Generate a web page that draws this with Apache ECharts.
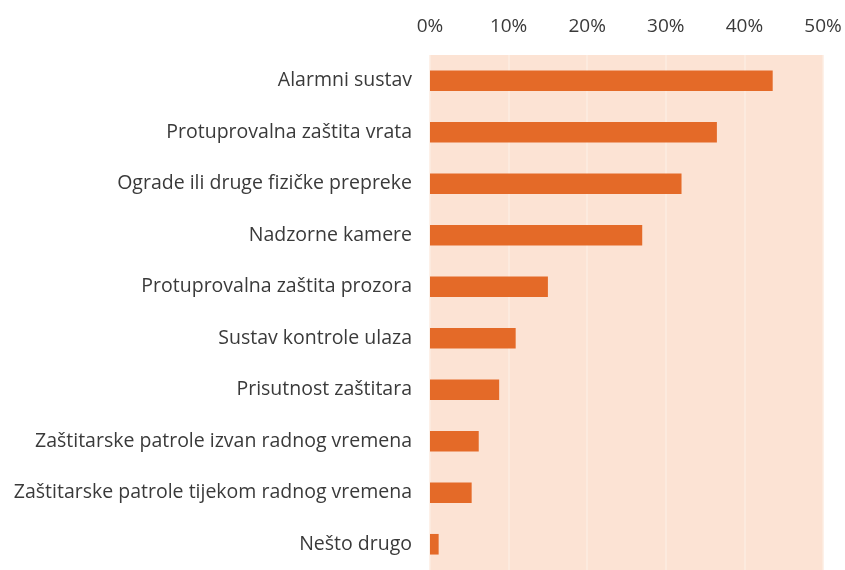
<!DOCTYPE html>
<html>
<head>
<meta charset="utf-8">
<script src="https://cdn.jsdelivr.net/npm/echarts@6/dist/echarts.min.js"></script>
<style>
  html, body { margin: 0; padding: 0; background: #ffffff; }
  #chart { width: 845px; height: 570px; }
</style>
</head>
<body>
<div id="chart"></div>
<script>
// Mjere zaštite (udio, %)
const categories = [
  'Alarmni sustav',
  'Protuprovalna zaštita vrata',
  'Ograde ili druge fizičke prepreke',
  'Nadzorne kamere',
  'Protuprovalna zaštita prozora',
  'Sustav kontrole ulaza',
  'Prisutnost zaštitara',
  'Zaštitarske patrole izvan radnog vremena',
  'Zaštitarske patrole tijekom radnog vremena',
  'Nešto drugo'
];
const values = [43.6, 36.5, 32.0, 27.0, 15.0, 10.9, 8.8, 6.2, 5.3, 1.1];

const chart = echarts.init(document.getElementById('chart'), null, { renderer: 'canvas' });

const textColor = '#3a3a3a';
const fontFamily = '"Open Sans", sans-serif';

chart.setOption({
  animation: false,
  grid: {
    left: 430,
    right: 22,
    top: 55,
    height: 522,
    show: true,
    backgroundColor: '#FCE3D4',
    borderWidth: 0
  },
  xAxis: {
    type: 'value',
    position: 'top',
    min: 0,
    max: 50,
    interval: 10,
    axisLine: { show: false },
    axisTick: { show: false },
    axisLabel: {
      formatter: '{value}%',
      color: textColor,
      fontFamily: fontFamily,
      fontSize: 19,
      margin: 19
    },
    splitLine: { show: true, lineStyle: { color: '#FDECE2', width: 1.5 } }
  },
  yAxis: {
    type: 'category',
    inverse: true,
    data: categories,
    axisLine: { show: false },
    axisTick: { show: false },
    axisLabel: {
      color: textColor,
      fontFamily: fontFamily,
      fontSize: 19.5,
      margin: 18
    }
  },
  series: [{
    type: 'bar',
    data: values,
    barCategoryGap: '60%',
    itemStyle: { color: '#E46A28' }
  }]
});
</script>
</body>
</html>
